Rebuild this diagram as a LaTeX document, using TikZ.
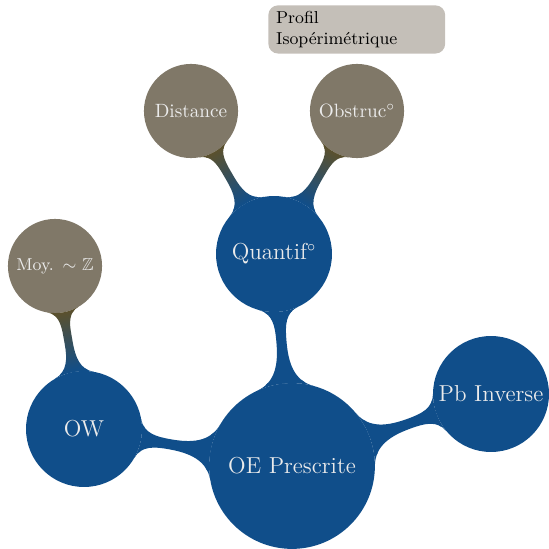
\documentclass[tikz,border=0pt]{standalone}
\usepackage{amsmath,amssymb,amsfonts}
\usepackage{xcolor}
\usetikzlibrary{mindmap,positioning,calc}
\definecolor{ndblue}{RGB}{16,78,138}
\definecolor{ndgray}{RGB}{128,120,104}
\definecolor{ndolive}{RGB}{90,80,46}
\definecolor{notegray}{RGB}{196,191,184}
\tikzset{
  core/.style={concept,concept color=ndblue,draw=none,text=white!92!black,minimum size=3.03cm,text width=2.7cm,inner sep=0pt,font=\large},
  topic/.style={concept,concept color=ndblue,draw=none,text=white!92!black,minimum size=2.12cm,text width=1.95cm,inner sep=0pt,font=\large},
  leaf/.style={concept,concept color=ndolive,fill=ndgray,draw=none,text=white!92!black,minimum size=1.72cm,text width=1.6cm,inner sep=0pt,font=\normalsize},
  note/.style={rectangle,rounded corners=5pt,fill=notegray,text=black,align=left,text width=2.95cm,minimum height=0.88cm,inner xsep=4pt,inner ysep=2pt,font=\small}
}

\begin{document}
\begin{tikzpicture}[x=0.01828cm,y=-0.01828cm]
  \useasboundingbox (0,0) rectangle (549,549);
  \begin{scope}[mindmap]
  \node[core] (oe) at (292,466) {OE Prescrite};
  \node[topic] (quant) at (274,254) {Quantif$^\circ$};
  \node[topic] (ow) at (84,429) {OW};
  \node[topic] (inv) at (491,394) {Pb Inverse};
  \node[leaf,font=\small] (moy) at (55,266) {Moy. $\sim\mathbb{Z}$};
  \node[leaf] (dist) at (191,111) {Distance};
  \node[leaf] (obst) at (357,111) {Obstruc$^\circ$};
  % liens
  \path (oe) to[circle connection bar switch color=from (ndblue) to (ndblue)] (quant);
  \path (oe) to[circle connection bar switch color=from (ndblue) to (ndblue)] (ow);
  \path (oe) to[circle connection bar switch color=from (ndblue) to (ndblue)] (inv);
  \path (ow) to[circle connection bar switch color=from (ndblue) to (ndolive)] (moy);
  \path (quant) to[circle connection bar switch color=from (ndblue) to (ndolive)] (dist);
  \path (quant) to[circle connection bar switch color=from (ndblue) to (ndolive)] (obst);
  \end{scope}
  \node[note,anchor=north west] (prof) at (268,5) {Profil\\Isopérimétrique};
\end{tikzpicture}
\end{document}
